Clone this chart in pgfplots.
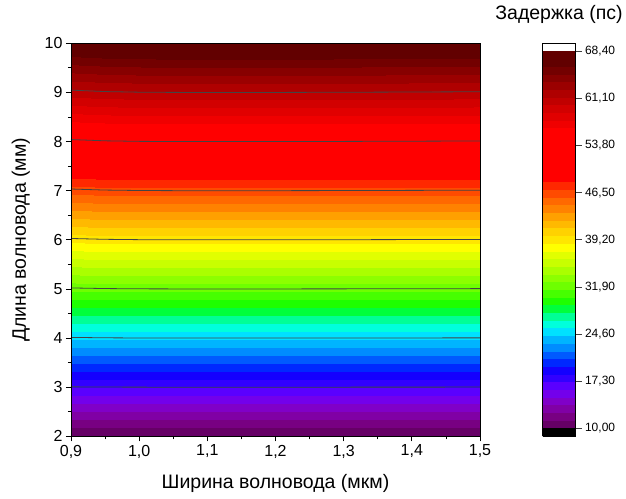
\documentclass[border=0pt]{standalone}
\usepackage{fontspec}
\setmainfont{Liberation Sans}
\usepackage{pgfplots}
\pgfplotsset{compat=1.18}
\usepackage{pgfplotstable}

% delay (ps) on a 9 x 5 grid: x = width (um), y = length (mm)
\pgfplotstableread{
x    y   d
0.90 2  10.00
0.95 2  10.00
1.00 2  10.00
1.05 2  10.00
1.10 2  10.00
1.20 2  10.00
1.30 2  10.00
1.40 2  10.00
1.50 2  10.00
0.90 4  24.50
0.95 4  24.56
1.00 4  24.59
1.05 4  24.60
1.10 4  24.60
1.20 4  24.60
1.30 4  24.59
1.40 4  24.58
1.50 4  24.57
0.90 6  39.00
0.95 6  39.13
1.00 6  39.18
1.05 6  39.20
1.10 6  39.20
1.20 6  39.20
1.30 6  39.19
1.40 6  39.17
1.50 6  39.14
0.90 8  53.51
0.95 8  53.69
1.00 8  53.77
1.05 8  53.80
1.10 8  53.80
1.20 8  53.80
1.30 8  53.78
1.40 8  53.75
1.50 8  53.71
0.90 10 68.01
0.95 10 68.25
1.00 10 68.36
1.05 10 68.39
1.10 10 68.40
1.20 10 68.40
1.30 10 68.37
1.40 10 68.33
1.50 10 68.28
}\delaytable

\pgfplotsset{
  colormap={origin}{
    rgb255=(102,0,102) rgb255=(120,0,130) rgb255=(128,0,165) rgb255=(128,0,200)
    rgb255=(115,0,235) rgb255=(90,0,255)  rgb255=(50,0,255)  rgb255=(20,0,255)
    rgb255=(0,40,255)  rgb255=(0,90,255)  rgb255=(0,140,255) rgb255=(0,180,255)
    rgb255=(0,225,255) rgb255=(0,255,220) rgb255=(0,255,150) rgb255=(0,255,60)
    rgb255=(30,255,0)  rgb255=(70,255,0)  rgb255=(110,255,0) rgb255=(140,255,0)
    rgb255=(170,255,0) rgb255=(200,255,0) rgb255=(225,255,0) rgb255=(255,255,0)
    rgb255=(255,230,0) rgb255=(255,210,0) rgb255=(255,185,0) rgb255=(255,160,0)
    rgb255=(255,130,0) rgb255=(255,105,0) rgb255=(255,75,0)  rgb255=(255,40,0)
    rgb255=(255,0,0)   rgb255=(255,0,0)   rgb255=(255,0,0)   rgb255=(255,0,0)
    rgb255=(255,0,0)   rgb255=(255,0,0)   rgb255=(255,0,0)   rgb255=(240,0,0)
    rgb255=(225,0,0)   rgb255=(210,0,0)   rgb255=(192,0,0)   rgb255=(175,0,0)
    rgb255=(155,0,0)   rgb255=(135,0,0)   rgb255=(115,0,0)   rgb255=(98,0,0)
    rgb255=(98,0,0)
  },
  /pgf/number format/assume math mode=true,
}
\definecolor{contourgray}{RGB}{68,68,68}

\begin{document}
\begin{tikzpicture}
\useasboundingbox (-71pt,-61.7pt) rectangle (555pt,436.3pt);
\begin{axis}[
  scale only axis,
  width=409pt, height=393pt,
  xmin=0.9, xmax=1.5, ymin=2, ymax=10,
  xtick={0.9,1.0,1.1,1.2,1.3,1.4,1.5},
  ytick={2,3,4,5,6,7,8,9,10},
  minor x tick num=1, minor y tick num=1,
  tick align=outside, xtick pos=left, ytick pos=left,
  major tick length=5pt, minor tick length=3pt,
  every tick/.style={black, line width=0.8pt},
  axis line style={line width=0.9pt},
  xticklabel style={/pgf/number format/fixed, /pgf/number format/fixed zerofill,
    /pgf/number format/precision=1, /pgf/number format/use comma},
  ticklabel style={font=\fontsize{16}{16}\selectfont},
  label style={font=\fontsize{19.5}{20}\selectfont},
  xlabel={Ширина волновода (мкм)},
  ylabel={Длина волновода (мм)},
  xlabel style={yshift=-9pt},
  ylabel style={yshift=8pt},
  axis on top,
  colormap name=origin,
  colormap access=piecewise constant,
  point meta min=10, point meta max=68.4,
  colorbar,
  colorbar style={
    at={(parent axis.north east)}, anchor=north west, xshift=54pt,
    width=33pt,
    ymin=8.7833, ymax=69.6167,
    ytick={10,17.3,24.6,31.9,39.2,46.5,53.8,61.1,68.4},
    tick align=outside, ytick pos=right, yticklabel pos=right,
    major tick length=6pt,
    every tick/.style={black!75, line width=0.8pt},
    axis line style={line width=0.8pt},
    scaled y ticks=false,
    yticklabel style={font=\fontsize{12}{12}\selectfont,
      /pgf/number format/fixed, /pgf/number format/fixed zerofill,
      /pgf/number format/precision=2, /pgf/number format/use comma},
    title={Задержка (пс)},
    title style={font=\fontsize{19.5}{20}\selectfont, yshift=10pt},
    extra description/.code={
      \fill[black] (rel axis cs:0,0) rectangle (rel axis cs:1,0.02);
    },
  },
]
\addplot[surf, shader=interp, mesh/rows=5, mesh/cols=9, point meta=\thisrow{d}]
  table[x=x, y=y] {\delaytable};

\addplot[contourgray, line width=0.8pt] coordinates {(0.9,3.0067) (0.95,3.0025) (1.0,3.0007) (1.05,3.0001) (1.1,3) (1.2,3) (1.3,3.0005) (1.4,3.0012) (1.5,3.0020)};
\addplot[contourgray, line width=0.8pt] coordinates {(0.9,4.0135) (0.95,4.0050) (1.0,4.0014) (1.05,4.0002) (1.1,4) (1.2,4) (1.3,4.0010) (1.4,4.0024) (1.5,4.0040)};
\addplot[contourgray, line width=0.8pt] coordinates {(0.9,5.0202) (0.95,5.0075) (1.0,5.0021) (1.05,5.0003) (1.1,5) (1.2,5) (1.3,5.0015) (1.4,5.0036) (1.5,5.0060)};
\addplot[contourgray, line width=0.8pt] coordinates {(0.9,6.0270) (0.95,6.0100) (1.0,6.0028) (1.05,6.0004) (1.1,6) (1.2,6) (1.3,6.0020) (1.4,6.0048) (1.5,6.0080)};
\addplot[contourgray, line width=0.8pt] coordinates {(0.9,7.0337) (0.95,7.0125) (1.0,7.0035) (1.05,7.0005) (1.1,7) (1.2,7) (1.3,7.0025) (1.4,7.0060) (1.5,7.0100)};
\addplot[contourgray, line width=0.8pt] coordinates {(0.9,8.0405) (0.95,8.0150) (1.0,8.0042) (1.05,8.0006) (1.1,8) (1.2,8) (1.3,8.0030) (1.4,8.0072) (1.5,8.0120)};
\addplot[contourgray, line width=0.8pt] coordinates {(0.9,9.0472) (0.95,9.0175) (1.0,9.0049) (1.05,9.0007) (1.1,9) (1.2,9) (1.3,9.0035) (1.4,9.0084) (1.5,9.0140)};
\end{axis}
\end{tikzpicture}
\end{document}
